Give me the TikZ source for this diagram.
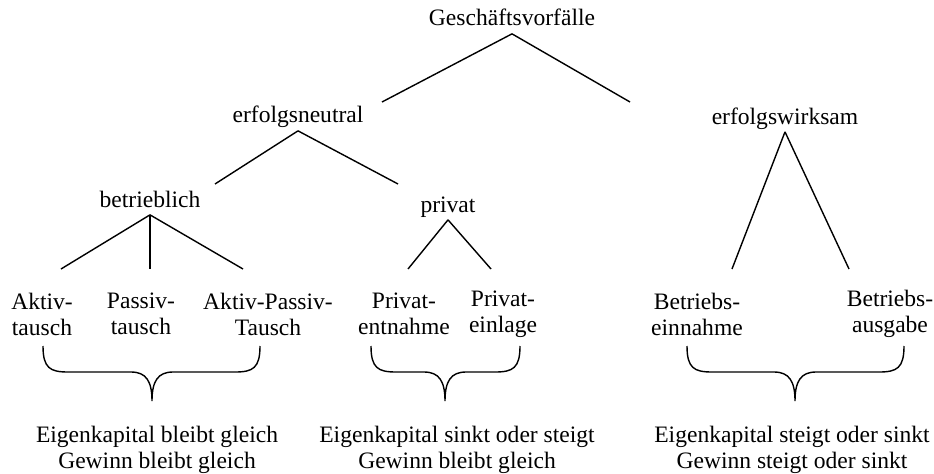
\documentclass[tikz,border=0pt]{standalone}
\usepackage{fontspec}
\setmainfont{Liberation Serif}
\usetikzlibrary{positioning,calc}

\begin{document}
\begin{tikzpicture}[
    head/.style={font=\fontsize{13.4}{14.8}\selectfont, anchor=base,
                 text depth=0pt, inner sep=0.15cm},
    leaf/.style={font=\fontsize{13.4}{14.8}\selectfont, align=center,
                 inner sep=0pt},
    line/.style={draw=black, line width=0.8pt},
    brace/.style={draw=black, line width=0.8pt}
]
\useasboundingbox (0,0) rectangle (18.68,9.46);

% Top levels
\node[head] (root) at (10.24, 8.94) {Geschäftsvorfälle};
\node[head] (neutral) at (5.96, 7.00) {erfolgsneutral};
\node[head] (wirksam) at (15.70, 6.98) {erfolgswirksam};
\node[head] (betr) at (3.00, 5.32) {betrieblich};
\node[head] (privat) at (8.96, 5.22) {privat};

% Leaves
\node[leaf] (aktiv) at (0.84, 3.18) {Aktiv-\\tausch};
\node[leaf] (passiv) at (2.82, 3.18) {Passiv-\\tausch};
\node[leaf] (aptausch) at (5.36, 3.18) {Aktiv-Passiv-\\Tausch};
\node[leaf] (entnahme) at (8.08, 3.18) {Privat-\\entnahme};
\node[leaf] (einlage) at (10.06, 3.18) {Privat-\\einlage};
\node[leaf] (einnahme) at (13.94, 3.18) {Betriebs-\\einnahme};
\node[leaf] (ausgabe) at (17.80, 3.18) {Betriebs-\\ausgabe};

% Free ends of the branches
\coordinate (root-l) at (7.64, 7.42);
\coordinate (root-r) at (12.60, 7.42);
\coordinate (neutral-l) at (4.30, 5.78);
\coordinate (neutral-r) at (7.96, 5.78);
\coordinate (wirksam-l) at (14.64, 4.08);
\coordinate (wirksam-r) at (16.98, 4.08);
\coordinate (betr-l) at (1.22, 4.08);
\coordinate (betr-m) at (3.00, 4.08);
\coordinate (betr-r) at (4.86, 4.08);
\coordinate (privat-l) at (8.16, 4.08);
\coordinate (privat-r) at (9.82, 4.08);

\foreach \a/\b in {root/root-l, root/root-r, neutral/neutral-l, neutral/neutral-r,
                   wirksam/wirksam-l, wirksam/wirksam-r, betr/betr-l, betr/betr-m,
                   betr/betr-r, privat/privat-l, privat/privat-r} {
    \draw[line] (\a.south) -- (\b);
}

% Braces
\foreach \l/\m/\r in {0.86/3.04/5.20, 7.42/8.90/10.40, 13.74/15.90/18.08} {
    \draw[brace] (\l,2.54) .. controls (\l,2.10) and (\l+0.14,2.02) .. (\l+0.5,2.02)
        -- (\m-0.42,2.02) .. controls (\m-0.12,2.02) and (\m,1.84) .. (\m,1.44)
        .. controls (\m,1.84) and (\m+0.12,2.02) .. (\m+0.42,2.02)
        -- (\r-0.5,2.02) .. controls (\r-0.14,2.02) and (\r,2.10) .. (\r,2.54);
}

% Results
\node[leaf] (res1) at (3.14, 0.46) {Eigenkapital bleibt gleich\\Gewinn bleibt gleich};
\node[leaf] (res2) at (9.14, 0.46) {Eigenkapital sinkt oder steigt\\Gewinn bleibt gleich};
\node[leaf] (res3) at (15.84, 0.46) {Eigenkapital steigt oder sinkt\\Gewinn steigt oder sinkt};

\end{tikzpicture}
\end{document}
